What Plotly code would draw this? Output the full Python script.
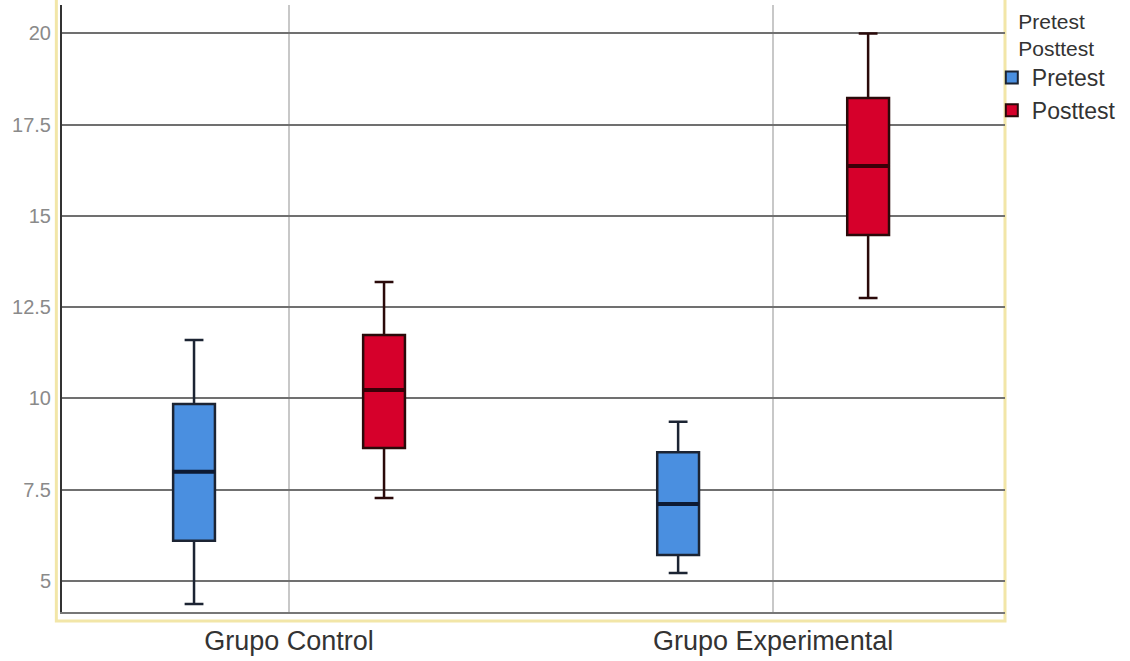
import plotly.graph_objects as go

groups = ["Grupo Control", "Grupo Experimental"]

pre_low = [4.37, 5.22]
pre_q1 = [6.10, 5.71]
pre_med = [7.99, 7.11]
pre_q3 = [9.85, 8.53]
pre_high = [11.60, 9.36]

post_low = [7.27, 12.75]
post_q1 = [8.64, 14.48]
post_med = [10.23, 16.37]
post_q3 = [11.74, 18.23]
post_high = [13.19, 20.0]

y_ticks = [5, 7.5, 10, 12.5, 15, 17.5, 20]
y_tick_text = ["5", "7.5", "10", "12.5", "15", "17.5", "20"]

series = [
    ("Pretest", "pre", pre_low, pre_q1, pre_med, pre_q3, pre_high, "#4A8FE0", "#1c2433", "#0d1a33"),
    ("Posttest", "post", post_low, post_q1, post_med, post_q3, post_high, "#D6002B", "#2a0a0a", "#3a0008"),
]

fig = go.Figure()
for name, grp, lo, q1, med, q3, hi, fill, edge, medcol in series:
    fig.add_trace(go.Box(
        name=name, x=groups, q1=q1, median=med, q3=q3,
        lowerfence=lo, upperfence=hi, offsetgroup=grp,
        fillcolor=fill, line=dict(color=edge, width=2.5),
        whiskerwidth=0.45, boxpoints=False, hoverinfo="skip",
    ))
for name, grp, lo, q1, med, q3, hi, fill, edge, medcol in series:
    # thicker median line drawn as a zero-height box at the median
    fig.add_trace(go.Box(
        name=name + " median", x=groups, q1=med, median=med, q3=med,
        lowerfence=med, upperfence=med, offsetgroup=grp,
        fillcolor=medcol, line=dict(color=medcol, width=4),
        whiskerwidth=0, boxpoints=False, hoverinfo="skip", showlegend=False,
    ))

fig.update_layout(
    width=1130, height=661,
    margin=dict(l=62, r=125, t=5, b=49, autoexpand=False),
    paper_bgcolor="white", plot_bgcolor="white",
    boxmode="group", boxgap=0.215, boxgroupgap=0.78,
    font=dict(family="Liberation Sans, Arial, sans-serif", color="#333333"),
    legend=dict(
        x=0.986, xanchor="left", y=1.006, yanchor="top",
        title=dict(text="Pretest<br>Posttest", side="top center",
                   font=dict(size=21, color="#333333")),
        font=dict(size=23, color="#333333"),
        itemsizing="constant", tracegroupgap=0,
        bgcolor="rgba(0,0,0,0)",
    ),
    xaxis=dict(
        type="category", range=[-0.469, 1.479],
        showgrid=True, gridcolor="#c8c8c8", gridwidth=2,
        showline=True, linecolor="#777777", linewidth=2,
        tickfont=dict(size=27, color="#333333", family="Liberation Sans, Arial, sans-serif"),
        ticklabelstandoff=4, zeroline=False,
    ),
    yaxis=dict(
        range=[4.15, 20.78],
        tickvals=y_ticks, ticktext=y_tick_text,
        showgrid=True, gridcolor="#707070", gridwidth=2,
        showline=True, linecolor="#333333", linewidth=2,
        tickfont=dict(size=20, color="#8a8a8a", family="Liberation Sans, Arial, sans-serif"),
        zeroline=False, ticklabelstandoff=5,
    ),
    shapes=[dict(
        type="rect", xref="paper", yref="paper",
        x0=-0.006, x1=1.0, y0=-0.015, y1=1.05,
        line=dict(color="#F2E6A8", width=3), layer="below",
    )],
)

fig.write_html("out.html", config={"displayModeBar": False},
               post_script="document.body.style.margin='0px';")
